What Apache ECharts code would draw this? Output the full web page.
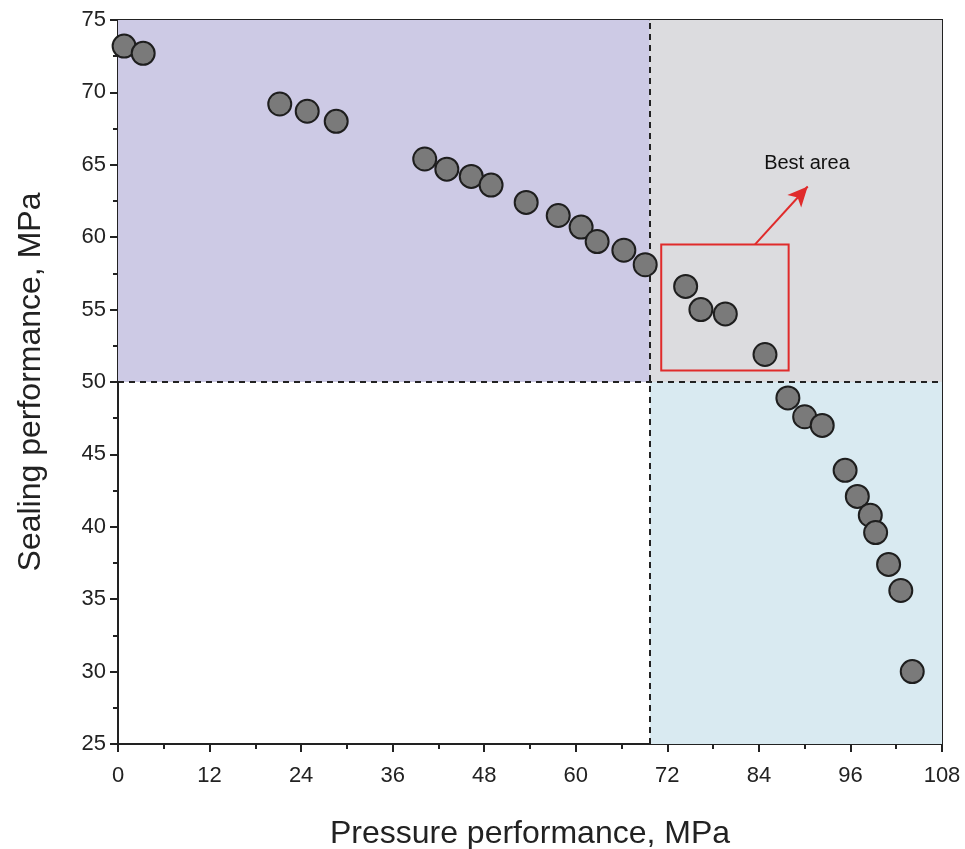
<!DOCTYPE html>
<html>
<head>
<meta charset="utf-8">
<script src="https://cdn.jsdelivr.net/npm/echarts@6/dist/echarts.min.js"></script>
<style>
  html, body { margin: 0; padding: 0; background: #fff; }
  #chart { width: 965px; height: 849px; }
</style>
</head>
<body>
<div id="chart"></div>
<script>
// 数据
const pressure = [0.8, 3.3, 21.2, 24.8, 28.6, 40.2, 43.1, 46.3, 48.9, 53.5, 57.7, 60.7, 62.8, 66.3, 69.1,
  74.4, 76.4, 79.6, 84.8, 87.8, 90.0, 92.3, 95.3, 96.9, 98.6, 99.3, 101.0, 102.6, 104.1];
const sealing = [73.2, 72.7, 69.2, 68.7, 68.0, 65.4, 64.7, 64.2, 63.6, 62.4, 61.5, 60.7, 59.7, 59.1, 58.1,
  56.6, 55.0, 54.7, 51.9, 48.9, 47.6, 47.0, 43.9, 42.1, 40.8, 39.6, 37.4, 35.6, 30.0];
const xTicks = [0, 12, 24, 36, 48, 60, 72, 84, 96, 108];
const yTicks = [25, 30, 35, 40, 45, 50, 55, 60, 65, 70, 75];
const splitX = 69.7;
const splitY = 50;
const bestBox = [[71.2, 59.5], [87.9, 50.8]];
const arrowFrom = [83.5, 59.5];
const arrowTo = [90.4, 63.5];
const labelPos = [90.3, 65.1];

const points = pressure.map((p, i) => [p, sealing[i]]);
const font = 'Liberation Sans, Arial, sans-serif';

const myChart = echarts.init(document.getElementById('chart'));
const option = {
  animation: false,
  grid: {
    left: 118, top: 20, right: 23, bottom: 105,
    outerBoundsMode: 'none',
    show: true, borderColor: '#222', borderWidth: 2, backgroundColor: 'transparent',
  },
  xAxis: {
    type: 'value',
    min: xTicks[0], max: xTicks[xTicks.length - 1], interval: 12,
    name: 'Pressure performance, MPa',
    nameLocation: 'middle', nameGap: 74,
    nameTextStyle: { fontSize: 32, color: '#222', fontFamily: font },
    axisLine: { show: true, lineStyle: { color: '#222', width: 2 } },
    axisTick: { show: true, inside: false, length: 8, lineStyle: { color: '#222', width: 2 } },
    minorTick: { show: true, splitNumber: 2, length: 5, lineStyle: { color: '#222', width: 2 } },
    axisLabel: { fontSize: 22, color: '#222', fontFamily: font, margin: 21 },
    splitLine: { show: false },
  },
  yAxis: {
    type: 'value',
    min: yTicks[0], max: yTicks[yTicks.length - 1], interval: 5,
    name: 'Sealing performance, MPa',
    nameLocation: 'middle', nameGap: 71,
    nameTextStyle: { fontSize: 32, color: '#222', fontFamily: font },
    axisLine: { show: true, lineStyle: { color: '#222', width: 2 } },
    axisTick: { show: true, inside: false, length: 8, lineStyle: { color: '#222', width: 2 } },
    minorTick: { show: true, splitNumber: 2, length: 5, lineStyle: { color: '#222', width: 2 } },
    axisLabel: { fontSize: 22, color: '#222', fontFamily: font, margin: 12 },
    splitLine: { show: false },
  },
  series: [
    {
      // 背景分区 + 虚线
      type: 'line',
      data: [],
      z: 1,
      silent: true,
      markArea: {
        silent: true,
        data: [
          [{ coord: [0, splitY], itemStyle: { color: '#cdcae5' } }, { coord: [splitX, 75] }],
          [{ coord: [splitX, splitY], itemStyle: { color: '#dcdcdf' } }, { coord: [108, 75] }],
          [{ coord: [splitX, 25], itemStyle: { color: '#d9eaf1' } }, { coord: [108, splitY] }],
        ],
      },
      markLine: {
        silent: true,
        symbol: ['none', 'none'],
        label: { show: false },
        lineStyle: { color: '#222', width: 2, type: [6, 5] },
        data: [
          [{ coord: [splitX, 25] }, { coord: [splitX, 75] }],
          [{ coord: [0, splitY] }, { coord: [108, splitY] }],
        ],
      },
    },
    {
      // 最佳区域框 + 箭头
      type: 'line',
      data: [],
      z: 2,
      silent: true,
      markArea: {
        silent: true,
        itemStyle: { color: 'rgba(0,0,0,0)', borderColor: '#e02b2b', borderWidth: 2 },
        data: [[{ coord: bestBox[0] }, { coord: bestBox[1] }]],
      },
      markLine: {
        silent: true,
        symbol: ['none', 'arrow'],
        symbolSize: [14, 20],
        label: { show: false },
        lineStyle: { color: '#e02b2b', width: 2, type: 'solid' },
        data: [[{ coord: arrowFrom }, { coord: arrowTo }]],
      },
      markPoint: {
        symbol: 'circle',
        symbolSize: 0,
        label: { show: true, formatter: 'Best area', fontSize: 20, color: '#111', fontFamily: font },
        data: [{ coord: labelPos }],
      },
    },
    {
      type: 'scatter',
      data: points,
      z: 5,
      symbolSize: 23,
      itemStyle: { color: '#7a7a7a', borderColor: '#1e1e1e', borderWidth: 2, opacity: 1 },
    },
  ],
};
myChart.setOption(option);
</script>
</body>
</html>
